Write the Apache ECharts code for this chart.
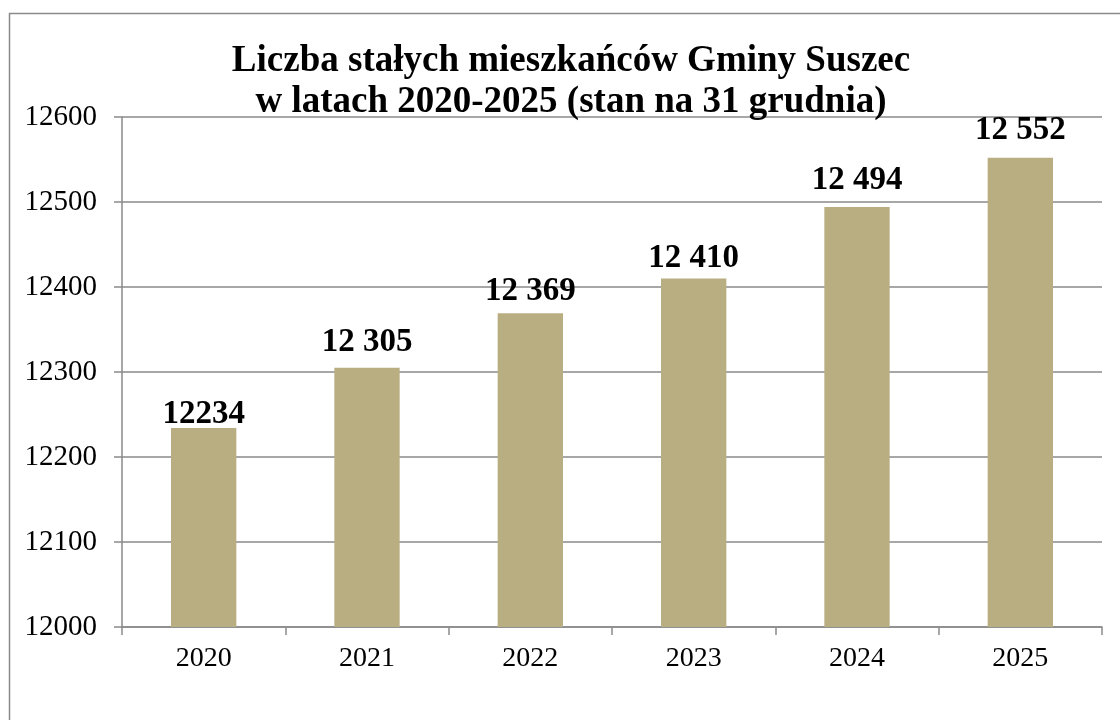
<!DOCTYPE html>
<html>
<head>
<meta charset="utf-8">
<script src="https://cdn.jsdelivr.net/npm/echarts@6/dist/echarts.min.js"></script>
<style>
  html, body { margin: 0; padding: 0; background: #fff; }
  #chart { width: 1120px; height: 720px; }
</style>
</head>
<body>
<div id="chart"></div>
<script>
// dane z wykresu
const years = ['2020', '2021', '2022', '2023', '2024', '2025']
const residents = [12234, 12305, 12369, 12410, 12494, 12552]
const valueLabels = ['12234', '12 305', '12 369', '12 410', '12 494', '12 552']

const font = '"Liberation Serif", "DejaVu Serif", serif'
const gray = '#8a8a8a'

const chart = echarts.init(document.getElementById('chart'))

// etykiety w oryginale stoją na nierównej wysokości nad słupkami
const labelGap = [-3, 9, 5, 4, 10, 11]
const barData = residents.map((v, i) => ({
  value: v,
  label: { distance: labelGap[i] }
}))

chart.setOption({
  animation: false,
  backgroundColor: '#fff',
  title: {
    text: 'Liczba stałych mieszkańców Gminy Suszec\nw latach 2020-2025 (stan na 31 grudnia)',
    left: 566,
    top: 36,
    textAlign: 'center',
    textStyle: {
      fontFamily: font,
      fontSize: 37,
      fontWeight: 'bold',
      color: '#000',
      lineHeight: 41
    }
  },
  graphic: [{
    type: 'rect',
    shape: { x: 9.5, y: 13.5, width: 1300, height: 900 },
    style: { fill: 'none', stroke: gray, lineWidth: 1.5 },
    silent: true
  }],
  grid: {
    left: 122,
    right: 18,
    top: 117,
    bottom: 93,
    containLabel: false
  },
  xAxis: {
    type: 'category',
    data: years,
    boundaryGap: true,
    axisLine: { show: true, lineStyle: { color: gray, width: 1.5 } },
    axisTick: { show: true, inside: false, length: 8, lineStyle: { color: gray, width: 1.5 } },
    axisLabel: { fontFamily: font, fontSize: 28, color: '#000', margin: 18 }
  },
  yAxis: {
    type: 'value',
    min: 12000,
    max: 12600,
    interval: 100,
    axisLine: { show: true, lineStyle: { color: gray, width: 1.5 } },
    axisTick: { show: true, inside: false, length: 8, lineStyle: { color: gray, width: 1.5 } },
    axisLabel: { fontFamily: font, fontSize: 29, color: '#000', margin: 25, formatter: v => String(v) },
    splitLine: { show: true, lineStyle: { color: gray, width: 1.5 } }
  },
  series: [{
    type: 'bar',
    data: barData,
    barCategoryGap: '60%',
    itemStyle: { color: '#b8ae81' },
    label: {
      show: true,
      position: 'top',
      fontFamily: font,
      fontSize: 33,
      fontWeight: 'bold',
      color: '#000',
      formatter: p => valueLabels[p.dataIndex]
    }
  }]
})
</script>
</body>
</html>
